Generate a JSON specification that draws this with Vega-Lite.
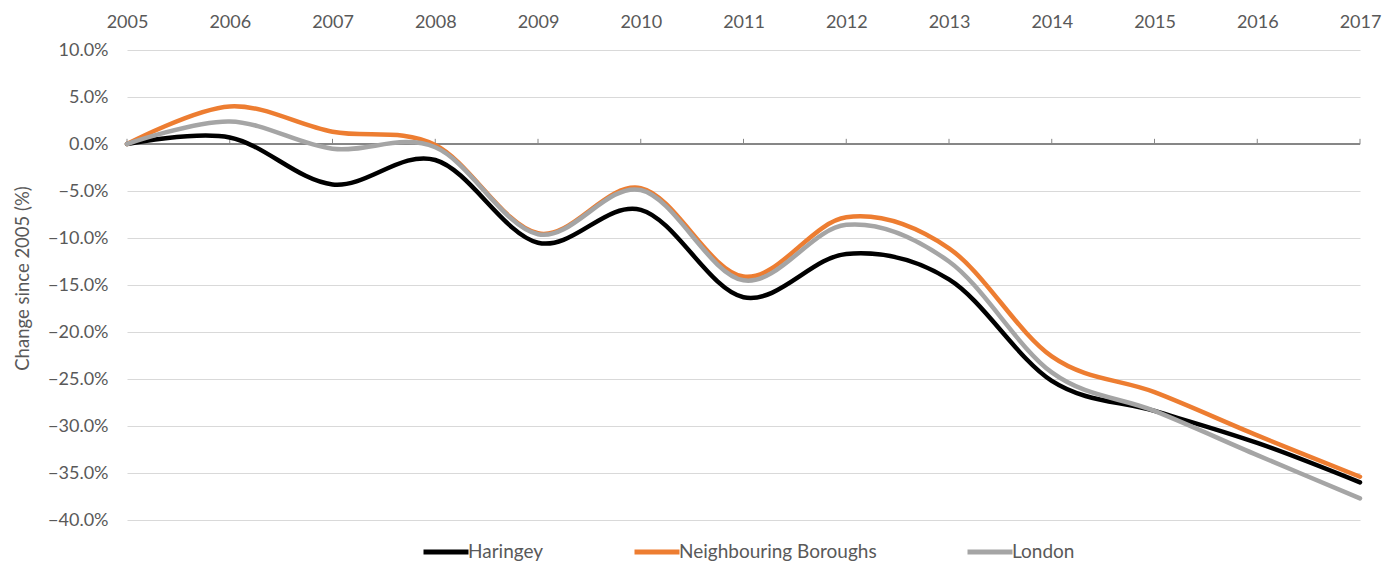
{
  "$schema": "https://vega.github.io/schema/vega-lite/v6.json",
  "autosize": {"type": "none"},
  "width": 1233,
  "height": 470,
  "padding": {"left": 127, "top": 50, "right": 22, "bottom": 43},
  "background": "white",
  "config": {
    "view": {"stroke": null},
    "font": "Lato",
    "axis": {"labelFont": "Lato", "titleFont": "Lato", "labelColor": "#595959", "titleColor": "#595959"},
    "legend": {"labelFont": "Lato", "labelColor": "#595959"}
  },
  "data": {
    "values": [
      {"year": 2005, "series": "Haringey", "change": 0},
      {"year": 2006, "series": "Haringey", "change": 0.007},
      {"year": 2007, "series": "Haringey", "change": -0.043},
      {"year": 2008, "series": "Haringey", "change": -0.017},
      {"year": 2009, "series": "Haringey", "change": -0.105},
      {"year": 2010, "series": "Haringey", "change": -0.070},
      {"year": 2011, "series": "Haringey", "change": -0.163},
      {"year": 2012, "series": "Haringey", "change": -0.117},
      {"year": 2013, "series": "Haringey", "change": -0.144},
      {"year": 2014, "series": "Haringey", "change": -0.252},
      {"year": 2015, "series": "Haringey", "change": -0.284},
      {"year": 2016, "series": "Haringey", "change": -0.318},
      {"year": 2017, "series": "Haringey", "change": -0.360},
      {"year": 2005, "series": "Neighbouring Boroughs", "change": 0},
      {"year": 2006, "series": "Neighbouring Boroughs", "change": 0.040},
      {"year": 2007, "series": "Neighbouring Boroughs", "change": 0.013},
      {"year": 2008, "series": "Neighbouring Boroughs", "change": -0.001},
      {"year": 2009, "series": "Neighbouring Boroughs", "change": -0.095},
      {"year": 2010, "series": "Neighbouring Boroughs", "change": -0.047},
      {"year": 2011, "series": "Neighbouring Boroughs", "change": -0.141},
      {"year": 2012, "series": "Neighbouring Boroughs", "change": -0.078},
      {"year": 2013, "series": "Neighbouring Boroughs", "change": -0.111},
      {"year": 2014, "series": "Neighbouring Boroughs", "change": -0.226},
      {"year": 2015, "series": "Neighbouring Boroughs", "change": -0.264},
      {"year": 2016, "series": "Neighbouring Boroughs", "change": -0.310},
      {"year": 2017, "series": "Neighbouring Boroughs", "change": -0.354},
      {"year": 2005, "series": "London", "change": 0},
      {"year": 2006, "series": "London", "change": 0.024},
      {"year": 2007, "series": "London", "change": -0.005},
      {"year": 2008, "series": "London", "change": -0.0035},
      {"year": 2009, "series": "London", "change": -0.096},
      {"year": 2010, "series": "London", "change": -0.049},
      {"year": 2011, "series": "London", "change": -0.145},
      {"year": 2012, "series": "London", "change": -0.086},
      {"year": 2013, "series": "London", "change": -0.125},
      {"year": 2014, "series": "London", "change": -0.243},
      {"year": 2015, "series": "London", "change": -0.284},
      {"year": 2016, "series": "London", "change": -0.331},
      {"year": 2017, "series": "London", "change": -0.377}
    ]
  },
  "layer": [
    {
      "mark": {"type": "rule", "color": "#868686", "strokeWidth": 1},
      "encoding": {"y": {"datum": 0, "type": "quantitative", "scale": {"domain": [-0.4, 0.1], "nice": false}}}
    },
    {
      "transform": [{"filter": "datum.series == 'Haringey'"}],
      "mark": {"type": "rule", "color": "#868686", "strokeWidth": 1},
      "encoding": {
        "x": {"field": "year", "type": "quantitative"},
        "y": {"datum": 0, "type": "quantitative"},
        "y2": {"datum": 0.0055}
      }
    },
    {
      "mark": {"type": "line", "interpolate": "cardinal", "tension": 0, "strokeWidth": 4.5, "strokeCap": "round", "strokeJoin": "round"},
      "encoding": {
        "x": {
          "field": "year", "type": "quantitative",
          "scale": {"domain": [2005, 2017], "nice": false, "zero": false},
          "axis": {
            "orient": "top", "title": null, "values": [2005, 2006, 2007, 2008, 2009, 2010, 2011, 2012, 2013, 2014, 2015, 2016, 2017],
            "format": "d", "domain": false, "ticks": false, "tickSize": 0, "grid": false,
            "labelFontSize": 18, "labelPadding": 19, "labelFlush": false
          }
        },
        "y": {
          "field": "change", "type": "quantitative",
          "scale": {"domain": [-0.4, 0.1], "nice": false},
          "axis": {
            "title": "Change since 2005 (%)", "values": [-0.4, -0.35, -0.3, -0.25, -0.2, -0.15, -0.1, -0.05, 0, 0.05, 0.1],
            "format": ".1%", "domain": false, "ticks": false, "tickSize": 0,
            "grid": true, "gridColor": "#d9d9d9", "gridWidth": 1,
            "labelFontSize": 18, "labelPadding": 19, "labelFlush": false,
            "titleFontSize": 18.5, "titleFontWeight": "normal", "titleX": -105, "titleY": 228,
            "titleAngle": 270, "titleAlign": "center", "titleBaseline": "middle"
          }
        },
        "color": {
          "field": "series", "type": "nominal",
          "scale": {"domain": ["Haringey", "Neighbouring Boroughs", "London"], "range": ["#000000", "#ED7D31", "#A5A5A5"]},
          "legend": {
            "title": null, "orient": "none", "direction": "horizontal", "columns": 3,
            "legendX": 294, "legendY": 477, "symbolType": "stroke", "symbolSize": 2025,
            "symbolStrokeWidth": 5, "labelFontSize": 19, "labelOffset": -3, "labelLimit": 400, "columnPadding": 80
          }
        }
      }
    }
  ]
}
